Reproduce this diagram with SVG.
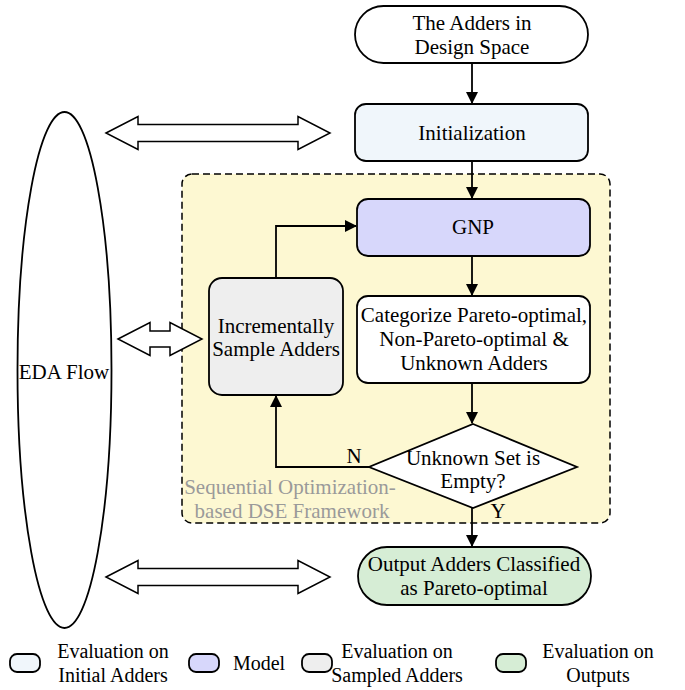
<svg xmlns="http://www.w3.org/2000/svg" width="685" height="690" viewBox="0 0 685 690">
<defs>
<style>
text{font-size:21px;fill:#000;text-anchor:middle}
.box{stroke:#000;stroke-width:1.8}
.con{fill:none;stroke:#000;stroke-width:1.8}
.dbl{fill:#fff;stroke:#000;stroke-width:1.5}
.leg{font-size:20px}
.grey{fill:#9a9a9a}
</style>
<marker id="ah" markerWidth="12" markerHeight="12" viewBox="0 0 12 12" refX="11" refY="6" orient="auto" markerUnits="userSpaceOnUse">
<path d="M0,0 L12,6 L0,12 Z" fill="#000"/>
</marker>
</defs>
<rect width="685" height="690" fill="#fff"/>
<g font-family="Liberation Serif, Times New Roman, DejaVu Serif, serif">
<g id="framework">
<rect x="182" y="174" width="428" height="349" rx="10" fill="#fdf8d2" stroke="#000" stroke-width="1.5" stroke-dasharray="7,4"/>
<text class="grey" x="290" y="494">Sequential Optimization-</text>
<text class="grey" x="292" y="518">based DSE Framework</text>
</g>
<g id="eda">
<ellipse cx="64.5" cy="370" rx="47" ry="258" fill="#fff" stroke="#000" stroke-width="1.8"/>
<text x="64" y="379">EDA Flow</text>
</g>
<g id="arrows-double">
<polygon class="dbl" points="106,133 138,116.5 138,124.5 298,124.5 298,116.5 330,133 298,149.5 298,141.5 138,141.5 138,149.5"/>
<polygon class="dbl" points="118,339 150,322.5 150,331 170,331 170,322.5 202,339 170,355.5 170,347 150,347 150,355.5"/>
<polygon class="dbl" points="106,577 138,560.5 138,568.5 298,568.5 298,560.5 330,577 298,593.5 298,585.5 138,585.5 138,593.5"/>
</g>
<g id="connectors">
<line class="con" x1="472" y1="63" x2="472" y2="103" marker-end="url(#ah)"/>
<line class="con" x1="472" y1="161" x2="472" y2="198" marker-end="url(#ah)"/>
<line class="con" x1="472" y1="256" x2="472" y2="295" marker-end="url(#ah)"/>
<line class="con" x1="472" y1="383" x2="472" y2="423" marker-end="url(#ah)"/>
<line class="con" x1="472" y1="508" x2="472" y2="546" marker-end="url(#ah)"/>
<polyline class="con" points="369,467 276,467 276,396" marker-end="url(#ah)"/>
<polyline class="con" points="276,278 276,226 356,226" marker-end="url(#ah)"/>
<text x="354" y="463">N</text>
<text x="498" y="518">Y</text>
</g>
<g id="start">
<rect class="box" x="355" y="6" width="233" height="57" rx="28.5" fill="#fff"/>
<text x="472" y="30">The Adders in</text>
<text x="472" y="54">Design Space</text>
</g>
<g id="init">
<rect class="box" x="355" y="104" width="233" height="57" rx="11" fill="#f0f6fb"/>
<text x="472" y="140">Initialization</text>
</g>
<g id="gnp">
<rect class="box" x="357" y="199" width="233" height="57" rx="11" fill="#d7d7fb"/>
<text x="473" y="234">GNP</text>
</g>
<g id="categorize">
<rect class="box" x="357" y="296" width="233" height="87" rx="11" fill="#fff"/>
<text x="474" y="322">Categorize Pareto-optimal,</text>
<text x="474" y="346">Non-Pareto-optimal &amp;</text>
<text x="474" y="370">Unknown Adders</text>
</g>
<g id="sample">
<rect class="box" x="209" y="278" width="134" height="117" rx="13" fill="#eeeeee"/>
<text x="276" y="333">Incrementally</text>
<text x="276" y="356">Sample Adders</text>
</g>
<g id="decision">
<polygon class="box" points="473,424 577,467 473,508 369,467" fill="#fff"/>
<text x="473" y="465">Unknown Set is</text>
<text x="473" y="488">Empty?</text>
</g>
<g id="output">
<rect class="box" x="358" y="547" width="233" height="58" rx="29" fill="#d6edd5"/>
<text x="474" y="571">Output Adders Classified</text>
<text x="474" y="595">as Pareto-optimal</text>
</g>
<g id="legend">
<rect class="box" x="10" y="654" width="30" height="18" rx="7" fill="#f0f6fb"/>
<text class="leg" x="113" y="658">Evaluation on</text>
<text class="leg" x="113" y="682">Initial Adders</text>
<rect class="box" x="189" y="654" width="30" height="18" rx="7" fill="#d7d7fb"/>
<text class="leg" x="259" y="670">Model</text>
<rect class="box" x="302" y="654" width="30" height="18" rx="7" fill="#eeeeee"/>
<text class="leg" x="397" y="658">Evaluation on</text>
<text class="leg" x="397" y="682">Sampled Adders</text>
<rect class="box" x="496" y="654" width="30" height="18" rx="7" fill="#d6edd5"/>
<text class="leg" x="598" y="658">Evaluation on</text>
<text class="leg" x="598" y="682">Outputs</text>
</g>
</g>
</svg>
